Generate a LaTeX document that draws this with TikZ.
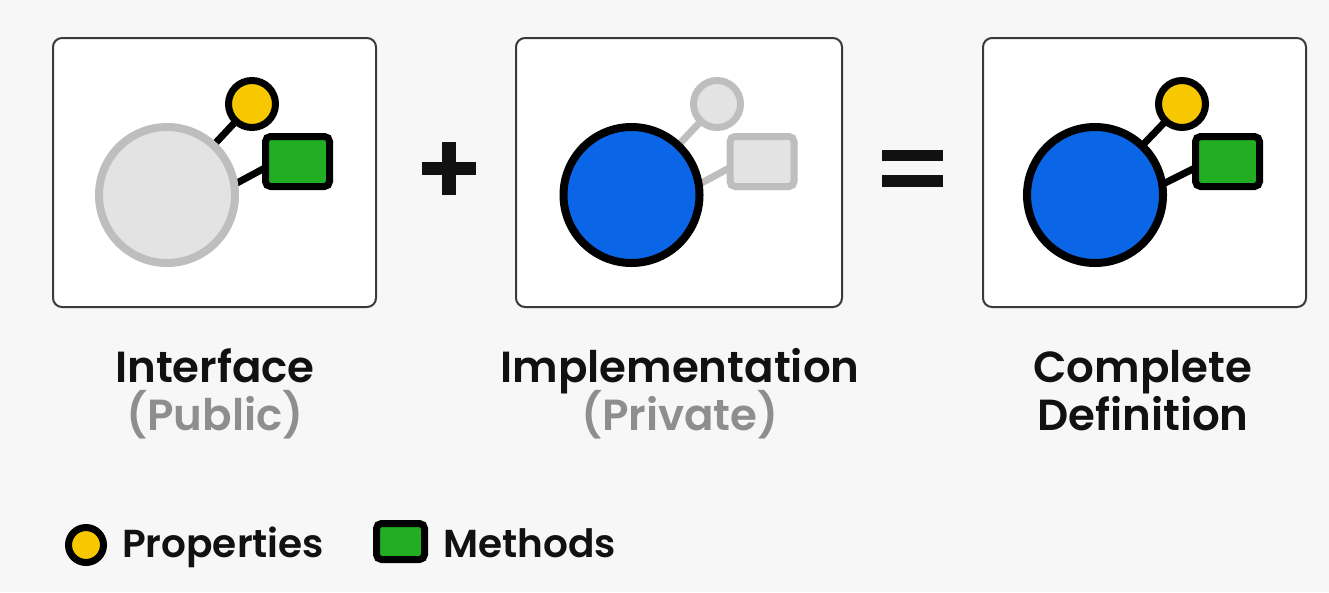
\documentclass[tikz,border=0pt]{standalone}
\usepackage{fontspec}
\setmainfont{Poppins}[UprightFont=* Medium,BoldFont=* SemiBold]
\pgfdeclarelayer{bg}
\pgfdeclarelayer{conn}
\pgfsetlayers{bg,conn,main}
\definecolor{pagebg}{HTML}{F7F7F7}
\definecolor{boxline}{HTML}{3A3A3A}
\definecolor{grayfill}{HTML}{E3E3E3}
\definecolor{grayline}{HTML}{BEBEBE}
\definecolor{objblue}{HTML}{0A66E6}
\definecolor{propyellow}{HTML}{F7C700}
\definecolor{methgreen}{HTML}{22AE22}
\definecolor{subgray}{HTML}{8E8E8E}
\definecolor{ink}{HTML}{111111}
\tikzset{
  panel/.style={draw=boxline, line width=2pt, fill=white, rounded corners=9pt,
    minimum width=323pt, minimum height=269pt, inner sep=0pt},
  bigobj/.style={circle, minimum size=136pt, line width=8pt, inner sep=0pt},
  prop/.style={circle, minimum size=47pt, line width=7pt, inner sep=0pt},
  meth/.style={rectangle, rounded corners=5pt, minimum width=64pt, minimum height=50pt, line width=7pt, inner sep=0pt},
  activeobj/.style={bigobj, fill=objblue, draw=black},
  ghostobj/.style={bigobj, fill=grayfill, draw=grayline},
  activeprop/.style={prop, fill=propyellow, draw=black},
  ghostprop/.style={prop, fill=grayfill, draw=grayline},
  activemeth/.style={meth, fill=methgreen, draw=black},
  ghostmeth/.style={meth, fill=grayfill, draw=grayline},
  link/.style={line width=7pt, draw=black},
  ghostlink/.style={line width=7pt, draw=grayline},
  bar/.style={rectangle, fill=ink, inner sep=0pt},
  title/.style={anchor=base, inner sep=0pt, text=ink, font=\fontsize{43.5}{50}\selectfont\bfseries},
  subtitle/.style={title, text=subgray},
  legtext/.style={anchor=base west, inner sep=0pt, text=ink, font=\fontsize{39}{45}\selectfont\bfseries},
}
\begin{document}
\begin{tikzpicture}[x=1pt,y=-1pt]
\begin{pgfonlayer}{bg}
  \fill[pagebg] (0,0) rectangle (1329,592);
  \node[panel] (p1) at (214.5,172.5) {};
  \node[panel, minimum width=326pt] (p2) at (679,172.5) {};
  \node[panel] (p3) at (1144.5,172.5) {};
\end{pgfonlayer}
\path[use as bounding box] (0,0) rectangle (1329,592);

% panel 1: interface
\node[ghostobj] (b1) at (167,195) {};
\node[activeprop] (s1) at (252,104) {};
\node[activemeth] (m1) at (297.5,161.5) {};
% panel 2: implementation
\node[activeobj] (b2) at (631.5,195) {};
\node[ghostprop] (s2) at (717,104) {};
\node[ghostmeth] (m2) at (762,161.5) {};
% panel 3: complete
\node[activeobj] (b3) at (1095,195) {};
\node[activeprop] (s3) at (1182,104) {};
\node[activemeth] (m3) at (1227.5,161.5) {};

\begin{pgfonlayer}{conn}
  \draw[link] (b1.center) -- (s1.center);
  \draw[link, shorten <=-6pt, shorten >=-6pt] (b1.10) -- ([yshift=-8pt]m1.west);
  \draw[ghostlink] (b2.center) -- (s2.center);
  \draw[ghostlink, shorten <=-6pt, shorten >=-6pt] (b2.10) -- ([yshift=-8pt]m2.west);
  \draw[link] (b3.center) -- (s3.center);
  \draw[link, shorten <=-6pt, shorten >=-6pt] (b3.10) -- ([yshift=-8pt]m3.west);
\end{pgfonlayer}

% operators
\node[bar, minimum width=54pt, minimum height=13pt] (plush) at (449,168.5) {};
\node[bar, minimum width=14pt, minimum height=53pt] (plusv) at (449,168.5) {};
\node[bar, minimum width=61pt, minimum height=11.5pt] (eqtop) at (912.5,155.5) {};
\node[bar, minimum width=61pt, minimum height=12pt] (eqbot) at (912.5,181) {};

% labels
\node[title] (t1) at (215,382) {Interface};
\node[subtitle] (u1) at (215,430) {(Public)};
\node[title] (t2) at (680,382) {Implementation};
\node[subtitle] (u2) at (680,430) {(Private)};
\node[title] (t3) at (1143,382) {Complete};
\node[title] (u3) at (1143,430) {Definition};

% legend
\node[prop, minimum size=35pt, fill=propyellow, draw=black] (lp) at (86,545) {};
\node[legtext] (lpt) at (122,557) {Properties};
\node[meth, minimum width=48pt, minimum height=36pt, fill=methgreen, draw=black] (lm) at (400.5,541.5) {};
\node[legtext] (lmt) at (443,557) {Methods};
\end{tikzpicture}
\end{document}
